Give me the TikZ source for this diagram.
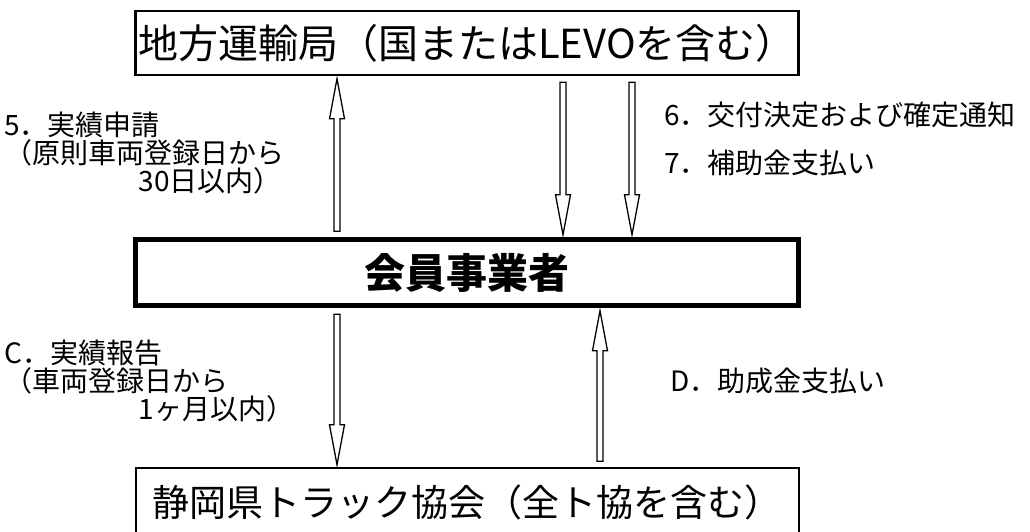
\documentclass[tikz,border=0pt]{standalone}
\usepackage{fontspec}
\setmainfont{Noto Sans CJK JP}
\usetikzlibrary{calc,positioning}

\tikzset{
  hollow/.style={draw, line width=1.3pt, fill=white, line join=miter},
  note/.style={inner sep=0pt, align=left, font=\fontsize{28}{28}\selectfont},
}

% hollow block arrow from #1 (tail) to #2 (tip)
\newcommand\hollowarrow[2]{%
  \path ($(#1)!6pt!(#2)$) coordinate (ha-s)
        ($(#2)!2.5pt!(#1)$) coordinate (ha-t)
        ($(ha-t)!40pt!(ha-s)$) coordinate (ha-b);
  \draw[hollow] ($(ha-s)!3pt!90:(ha-t)$) -- ($(ha-b)!3pt!90:(ha-t)$)
    -- ($(ha-b)!7.5pt!90:(ha-t)$) -- (ha-t) -- ($(ha-b)!7.5pt!-90:(ha-t)$)
    -- ($(ha-b)!3pt!-90:(ha-t)$) -- ($(ha-s)!3pt!-90:(ha-t)$) -- cycle;
}

\begin{document}
\begin{tikzpicture}[x=1pt, y=-1pt]
  \useasboundingbox (0,0) rectangle (1030,531);
  \clip (0,0) rectangle (1030,531);
  \begin{scope}[every node/.style={draw, inner sep=0pt, minimum width=663pt}]
    \node (top) [line width=2.5pt, minimum height=64pt, font=\fontsize{40}{40}\selectfont] at (467,43) {地方運輸局（国またはLEVOを含む）};
    \node (mid) [line width=5pt, minimum height=66pt, font=\bfseries\fontsize{41}{41}\selectfont, below=161pt of top] {会員事業者};
    \node (bot) [line width=2pt, minimum height=68pt, font=\fontsize{37}{37}\selectfont, below=159pt of mid] {静岡県トラック協会（全ト協を含む）};
  \end{scope}
  \coordinate (x5) at (337,0);
  \coordinate (x6) at (563,0);
  \coordinate (x7) at (632,0);
  \coordinate (xC) at (337,0);
  \coordinate (xD) at (600,0);
  \hollowarrow{mid.north -| x5}{top.south -| x5}
  \hollowarrow{top.south -| x6}{mid.north -| x6}
  \hollowarrow{top.south -| x7}{mid.north -| x7}
  \hollowarrow{mid.south -| xC}{bot.north -| xC}
  \hollowarrow{bot.north -| xD}{mid.south -| xD}
  % texts
  \node (n5) [note, anchor=north west] at (4,112) {5．実績申請\\（原則車両登録日から\\\hspace*{4.8em}30日以内）};
  \node (n6) [note, anchor=west] at (664,115) {6．交付決定および確定通知};
  \node (n7) [note, anchor=west] at (664,163) {7．補助金支払い};
  \node (nC) [note, anchor=north west] at (4,340) {C．実績報告\\（車両登録日から\\\hspace*{4.8em}1ヶ月以内）};
  \node (nD) [note, anchor=west] at (670,381) {D．助成金支払い};
\end{tikzpicture}
\end{document}
